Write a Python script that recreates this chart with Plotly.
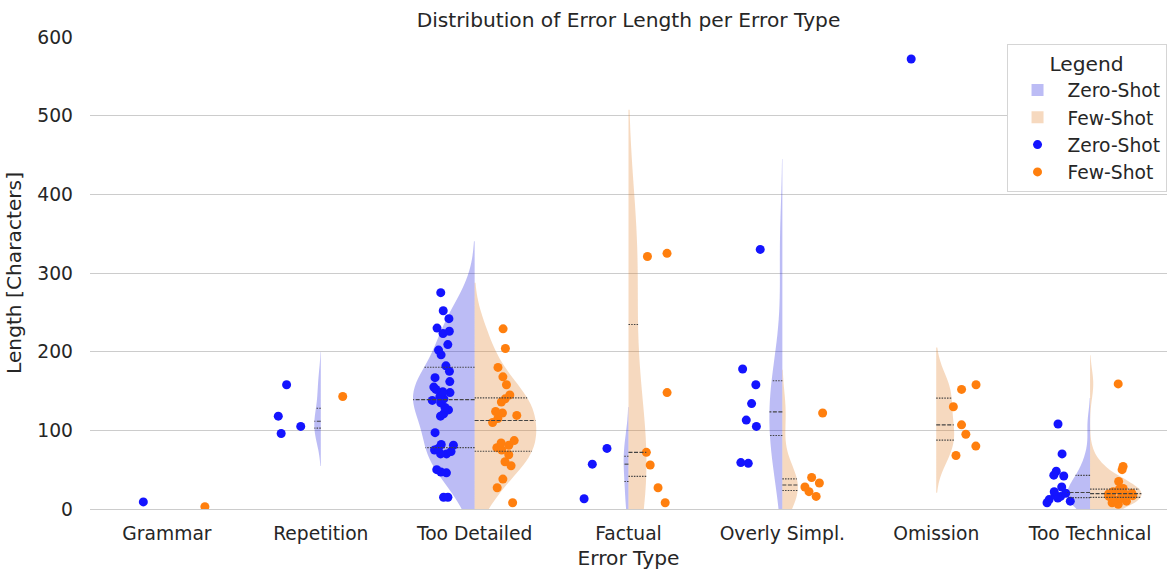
import numpy as np
import plotly.graph_objects as go

categories = ["Grammar", "Repetition", "Too Detailed", "Factual",
              "Overly Simpl.", "Omission", "Too Technical"]

# Zero-Shot error lengths (characters)
zero_grammar = [9]
zero_repetition = [158, 118, 105, 96]
zero_too_detailed = [275, 252, 242, 230, 226, 223, 209, 202, 196, 182, 175, 167,
                     162, 155, 152, 149, 148, 143, 140, 138, 135, 129, 126, 121,
                     118, 97, 82, 81, 77, 75, 73, 70, 70, 50, 47, 46, 15, 15]
zero_factual = [77, 57, 13]
zero_overly_simpl = [330, 178, 158, 134, 113, 105, 59, 58]
zero_omission = [572]
zero_too_technical = [108, 70, 48, 43, 42, 28, 22, 20, 18, 16, 14, 12, 10, 8]

# Few-Shot error lengths (characters)
few_grammar = [3]
few_repetition = [143]
few_too_detailed = [229, 204, 180, 168, 158, 145, 140, 136, 124, 122, 119, 115,
                    110, 87, 84, 81, 78, 75, 69, 60, 55, 38, 27, 8]
few_factual = [325, 321, 148, 72, 56, 27, 8]
few_overly_simpl = [122, 40, 33, 28, 22, 16]
few_omission = [158, 152, 130, 107, 95, 80, 68]
few_too_technical = [159, 54, 50, 35, 26, 25, 24, 23, 22, 20, 19, 18, 17, 16,
                     15, 14, 12, 10, 8, 6]

zero_series = [zero_grammar, zero_repetition, zero_too_detailed, zero_factual,
               zero_overly_simpl, zero_omission, zero_too_technical]
few_series = [few_grammar, few_repetition, few_too_detailed, few_factual,
              few_overly_simpl, few_omission, few_too_technical]

FONT = "DejaVu Sans"
TXT = "#262626"
hues = [
    ("Zero-Shot", zero_series, "rgba(32,32,223,0.3)", "#1414ff", "negative", -1),
    ("Few-Shot", few_series, "rgba(225,128,44,0.3)", "#ff7f0e", "positive", 1),
]

fig = go.Figure()

def kde(t, v, bw):
    t = np.atleast_1d(np.asarray(t, float))
    return np.exp(-0.5 * ((t[:, None] - v[None, :]) / bw) ** 2).sum(1)

med_x, med_y, q_x, q_y = [], [], [], []
for name, series, fill, mcol, side, sign in hues:
    maxn = max(len(s) for s in series)
    first = True
    for i, vals in enumerate(series):
        v = np.asarray(vals, float)
        if len(v) < 2:
            continue
        bw = v.std(ddof=1) * len(v) ** -0.2
        w = 0.8 * len(v) / maxn
        fig.add_trace(go.Violin(
            x=[i] * len(v), y=v, side=side, width=w, bandwidth=bw,
            scalegroup=f"{name}-{i}", scalemode="width", spanmode="soft",
            fillcolor=fill, line=dict(width=0, color=fill), points=False,
            name=name, legendgroup=name + "-v", showlegend=first,
            hoverinfo="skip", meanline=dict(visible=False)))
        first = False
        grid = np.linspace(v.min() - 2 * bw, v.max() + 2 * bw, 600)
        dmax = kde(grid, v, bw).max()
        qs = np.percentile(v, [25, 50, 75])
        hws = (w / 2) * kde(qs, v, bw) / dmax
        for k, (q, hw) in enumerate(zip(qs, hws)):
            if k == 1:
                med_x += [i, i + sign * hw, None]
                med_y += [q, q, None]
            else:
                q_x += [i, i + sign * hw, None]
                q_y += [q, q, None]

fig.add_trace(go.Scatter(x=q_x, y=q_y, mode="lines", showlegend=False,
                         hoverinfo="skip",
                         line=dict(color="#444444", width=1.1, dash="1.5px,1.2px")))
fig.add_trace(go.Scatter(x=med_x, y=med_y, mode="lines", showlegend=False,
                         hoverinfo="skip",
                         line=dict(color="#444444", width=1.1, dash="4px,1.5px")))

for name, series, fill, mcol, side, sign in hues:
    xs = [i for i, vals in enumerate(series) for _ in vals]
    ys = [y for vals in series for y in vals]
    fig.add_trace(go.Box(
        x=xs, y=ys, boxpoints="all", jitter=0.45, pointpos=sign * 1.0, width=0.4,
        fillcolor="rgba(0,0,0,0)", line=dict(width=0, color="rgba(0,0,0,0)"),
        marker=dict(color=mcol, size=9, line=dict(width=0)),
        showlegend=False, name=name, hoverinfo="y"))

for name, series, fill, mcol, side, sign in hues:
    fig.add_trace(go.Scatter(x=[None], y=[None], mode="markers", name=name,
                             legendgroup=name + "-p",
                             marker=dict(color=mcol, size=9)))

fig.update_layout(
    width=1167, height=570,
    margin=dict(l=90, r=0, t=37, b=61),
    paper_bgcolor="white", plot_bgcolor="white",
    font=dict(family=FONT, color=TXT, size=18.7),
    violinmode="overlay", boxmode="overlay",
    title=dict(text="Distribution of Error Length per Error Type",
               x=0.5, xref="paper", xanchor="center",
               y=1 - 20 / 570, yref="container", yanchor="middle",
               font=dict(size=20.2, family=FONT, color=TXT)),
    legend=dict(x=0.851, y=0.985, xanchor="left", yanchor="top",
                bgcolor="white", bordercolor="#d5d5d5", borderwidth=1,
                font=dict(size=18.7, family=FONT, color=TXT),
                title=dict(text="Legend", side="top center",
                           font=dict(size=20.2, family=FONT, color=TXT)),
                tracegroupgap=2, traceorder="normal", itemwidth=50),
)
fig.update_xaxes(range=[-0.5, 6.5], tickmode="array",
                 tickvals=list(range(len(categories))), ticktext=categories,
                 showgrid=False, zeroline=False, showline=True,
                 linecolor="#cccccc", linewidth=1.3, ticks="",
                 ticklabelstandoff=7,
                 title=dict(text="Error Type", font=dict(size=20.2), standoff=8))
fig.update_yaxes(range=[0, 600], dtick=100, showgrid=True, gridcolor="#cccccc",
                 gridwidth=1.3, zeroline=False, showline=False, ticks="",
                 ticklabelstandoff=16,
                 title=dict(text="Length [Characters]", font=dict(size=20.2),
                            standoff=10))

fig.write_html("out.html", config={"displayModeBar": False},
               post_script="document.body.style.margin='0';document.body.style.overflow='hidden';")
